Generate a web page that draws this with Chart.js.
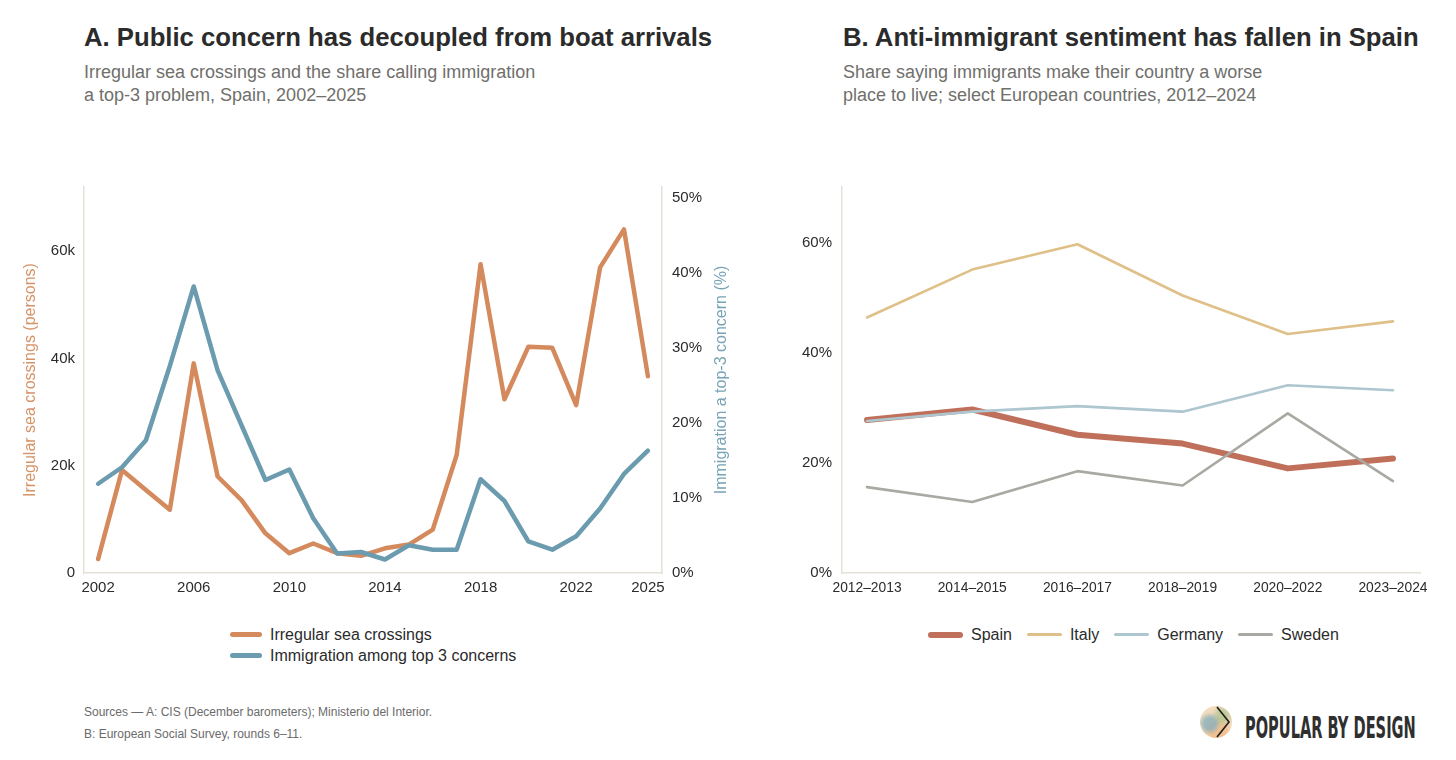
<!DOCTYPE html>
<html>
<head>
<meta charset="utf-8">
<script src="https://cdn.jsdelivr.net/npm/chart.js@4/dist/chart.umd.min.js"></script>
<style>
  body { margin: 0; background: #fff; font-family: "Liberation Sans", Arial, sans-serif; }
  #page { position: relative; width: 1456px; height: 760px; overflow: hidden; }
  .title { position: absolute; top: 24px; font-size: 25.7px; line-height: 26px; font-weight: bold; color: #2b2b2b; white-space: nowrap; }
  .sub { position: absolute; top: 61px; font-size: 18px; line-height: 23px; color: #6f6f6b; white-space: nowrap; }
  canvas { position: absolute; }
  .legend { position: absolute; font-size: 16px; color: #2b2b2b; }
  .legend .item { display: flex; align-items: center; height: 21px; white-space: nowrap; }
  .legend .swatch { display: inline-block; border-radius: 4px; margin-right: 8px; }
  #legendA { left: 230px; top: 624px; }
  #legendB { left: 928px; top: 624px; display: flex; }
  #legendB .item { margin-right: 15px; }
  .foot { position: absolute; left: 84px; font-size: 12px; color: #6b6b6b; white-space: nowrap; }
  #brand { position: absolute; left: 1245px; top: 713px; font-family: "DejaVu Sans Condensed", "DejaVu Sans", sans-serif; font-weight: bold; font-size: 30px; line-height: 30px; color: #2f2f2f; white-space: nowrap; transform-origin: left top; }
  #logo { position: absolute; left: 1200px; top: 706px; width: 32px; height: 32px; border-radius: 50%;
    background:
      radial-gradient(circle at 30% 55%, rgba(130,175,190,0.75) 0 20%, rgba(130,175,190,0) 40%),
      radial-gradient(circle at 70% 30%, rgba(170,195,140,0.7) 0 14%, rgba(170,195,140,0) 35%),
      radial-gradient(circle at 55% 75%, rgba(238,185,135,0.8) 0 25%, rgba(238,185,135,0) 50%),
      #f3dbbd; }
  #logo svg { position: absolute; left: 0; top: 0; }
</style>
</head>
<body>
<div id="page">
  <div class="title" style="left:84px">A. Public concern has decoupled from boat arrivals</div>
  <div class="sub" style="left:84px">Irregular sea crossings and the share calling immigration<br>a top-3 problem, Spain, 2002–2025</div>
  <div class="title" style="left:843px">B. Anti-immigrant sentiment has fallen in Spain</div>
  <div class="sub" style="left:843px">Share saying immigrants make their country a worse<br>place to live; select European countries, 2012–2024</div>

  <canvas id="chartA" width="760" height="432" style="left:0;top:168px"></canvas>
  <canvas id="chartB" width="696" height="432" style="left:760px;top:168px"></canvas>

  <div id="legendA" class="legend"></div>
  <div id="legendB" class="legend"></div>

  <div class="foot" style="top:705px">Sources — A: CIS (December barometers); Ministerio del Interior.</div>
  <div class="foot" style="top:727px">B: European Social Survey, rounds 6–11.</div>

  <div id="logo"><svg width="32" height="32"><polyline points="17,1 29,16 17,31" fill="none" stroke="#1c1c1c" stroke-width="1.6"/></svg></div>
  <div id="brand">POPULAR BY DESIGN</div>
</div>

<script>
// Panel A: crossings (persons) and share naming immigration a top-3 problem (%)
const years = [2002, 2003, 2004, 2005, 2006, 2007, 2008, 2009, 2010, 2011, 2012, 2013,
               2014, 2015, 2016, 2017, 2018, 2019, 2020, 2021, 2022, 2023, 2024, 2025];
const crossings = [2600, 19200, 15500, 11800, 39100, 18000, 13600, 7400, 3700, 5500, 3700, 3200,
                   4600, 5300, 8100, 22000, 57600, 32400, 42200, 42000, 31300, 57000, 64100, 36700];
const concern = [11.9, 14.1, 17.7, 27.6, 38.2, 27.0, 19.7, 12.4, 13.8, 7.3, 2.6, 2.8,
                 1.8, 3.7, 3.1, 3.1, 12.5, 9.6, 4.2, 3.1, 4.9, 8.6, 13.2, 16.3];
const yearTicks = [2002, 2006, 2010, 2014, 2018, 2022, 2025];
const crossingTicks = [0, 20000, 40000, 60000];
const concernTicks = [0, 10, 20, 30, 40, 50];

// Panel B: "immigrants make country a worse place to live" (%)
const periods = ['2012–2013', '2014–2015', '2016–2017', '2018–2019', '2020–2022', '2023–2024'];
const spain = [27.8, 29.7, 25.1, 23.5, 19.0, 20.8];
const italy = [46.4, 55.1, 59.7, 50.4, 43.4, 45.7];
const germany = [27.6, 29.3, 30.3, 29.3, 34.1, 33.2];
const sweden = [15.6, 12.9, 18.5, 15.9, 29.0, 16.7];
const shareTicks = [0, 20, 40, 60];

const ORANGE = '#d48a5c';
const BLUE = '#6b9bae';
const AXIS = '#e6e1d8';
const TXT = '#2b2b2b';
const FONT = '"Liberation Sans", Arial, sans-serif';

Chart.defaults.font.family = FONT;
Chart.defaults.color = TXT;

function toPoints(xs, ys) {
    return xs.map((x, i) => ({ x: x, y: ys[i] }));
}

function fixedTicks(list) {
    return function(scale) {
        scale.ticks = list.map(v => ({ value: v }));
    };
}

// Rotated axis titles reading bottom to top on both sides
const axisTitles = {
    id: 'axisTitles',
    afterDraw(chart, args, opts) {
        const ctx = chart.ctx;
        const area = chart.chartArea;
        const cy = (area.top + area.bottom) / 2;
        (opts.items || []).forEach(t => {
            ctx.save();
            ctx.translate(t.x, cy);
            ctx.rotate(-Math.PI / 2);
            ctx.font = '16px ' + FONT;
            ctx.fillStyle = t.color;
            ctx.textAlign = 'center';
            ctx.textBaseline = 'middle';
            ctx.fillText(t.text, 0, 0);
            ctx.restore();
        });
    }
};

const noGrid = { display: false, drawOnChartArea: false, drawTicks: false };
const axisBorder = { display: true, color: AXIS, width: 1.5 };

const chartA = new Chart(document.getElementById('chartA'), {
    type: 'line',
    data: {
        datasets: [{
            label: 'Irregular sea crossings',
            data: toPoints(years, crossings),
            yAxisID: 'y',
            borderColor: ORANGE,
            borderWidth: 4.5,
            order: 1
        }, {
            label: 'Immigration among top 3 concerns',
            data: toPoints(years, concern),
            yAxisID: 'y1',
            borderColor: BLUE,
            borderWidth: 4.5,
            order: 0
        }]
    },
    options: {
        responsive: false,
        animation: false,
        layout: { padding: { top: 6 } },
        elements: {
            point: { radius: 0 },
            line: { tension: 0, borderCapStyle: 'round', borderJoinStyle: 'round' }
        },
        scales: {
            x: {
                type: 'linear',
                min: 2001.41,
                max: 2025.59,
                grid: noGrid,
                border: axisBorder,
                afterBuildTicks: fixedTicks(yearTicks),
                afterFit: s => { s.height = 27; },
                ticks: { padding: 6, font: { size: 15 }, maxRotation: 0, callback: v => String(v) }
            },
            y: {
                position: 'left',
                min: 0,
                max: 72000,
                grid: noGrid,
                border: axisBorder,
                afterBuildTicks: fixedTicks(crossingTicks),
                afterFit: s => { s.width = 84; },
                ticks: { padding: 9, font: { size: 15 }, callback: v => v === 0 ? '0' : (v / 1000) + 'k' }
            },
            y1: {
                position: 'right',
                min: 0,
                max: 51.46,
                grid: noGrid,
                border: axisBorder,
                afterBuildTicks: fixedTicks(concernTicks),
                afterFit: s => { s.width = 98; },
                ticks: { padding: 10, font: { size: 15 }, callback: v => v + '%' }
            }
        },
        plugins: {
            legend: { display: false },
            tooltip: { enabled: false },
            axisTitles: {
                items: [
                    { x: 31, text: 'Irregular sea crossings (persons)', color: '#d69368' },
                    { x: 722, text: 'Immigration a top-3 concern (%)', color: '#77a3b4' }
                ]
            }
        }
    },
    plugins: [axisTitles]
});

const chartB = new Chart(document.getElementById('chartB'), {
    type: 'line',
    data: {
        datasets: [
            { label: 'Spain', data: toPoints([0, 1, 2, 3, 4, 5], spain), borderColor: '#c0705a', borderWidth: 6, order: 3 },
            { label: 'Italy', data: toPoints([0, 1, 2, 3, 4, 5], italy), borderColor: '#dfc088', borderWidth: 2.6, order: 2 },
            { label: 'Germany', data: toPoints([0, 1, 2, 3, 4, 5], germany), borderColor: '#adc6cf', borderWidth: 2.6, order: 1 },
            { label: 'Sweden', data: toPoints([0, 1, 2, 3, 4, 5], sweden), borderColor: '#a9a8a2', borderWidth: 2.6, order: 0 }
        ]
    },
    options: {
        responsive: false,
        animation: false,
        layout: { padding: { top: 6, right: 36 } },
        elements: {
            point: { radius: 0 },
            line: { tension: 0, borderCapStyle: 'round', borderJoinStyle: 'round' }
        },
        scales: {
            x: {
                type: 'linear',
                min: -0.238,
                max: 5.257,
                grid: noGrid,
                border: axisBorder,
                afterBuildTicks: fixedTicks([0, 1, 2, 3, 4, 5]),
                afterFit: s => { s.height = 27; },
                ticks: { padding: 7, font: { size: 13.8 }, maxRotation: 0, callback: v => periods[v] }
            },
            y: {
                min: 0,
                max: 70.1,
                grid: noGrid,
                border: axisBorder,
                afterBuildTicks: fixedTicks(shareTicks),
                afterFit: s => { s.width = 82; },
                ticks: { padding: 10, font: { size: 15 }, callback: v => v + '%' }
            }
        },
        plugins: {
            legend: { display: false },
            tooltip: { enabled: false }
        }
    }
});

// HTML legends built from the chart datasets
function buildLegend(chart, el, swatchLen) {
    chart.data.datasets.forEach(ds => {
        const item = document.createElement('div');
        item.className = 'item';
        const sw = document.createElement('span');
        sw.className = 'swatch';
        sw.style.width = swatchLen + 'px';
        sw.style.height = Math.max(ds.borderWidth, 3) + 'px';
        sw.style.background = ds.borderColor;
        item.appendChild(sw);
        item.appendChild(document.createTextNode(ds.label));
        el.appendChild(item);
    });
}
buildLegend(chartA, document.getElementById('legendA'), 32);
buildLegend(chartB, document.getElementById('legendB'), 35);

// squeeze the wordmark to its width in the reference
const brand = document.getElementById('brand');
brand.style.transform = 'scaleX(' + (171 / brand.offsetWidth) + ')';
</script>
</body>
</html>
